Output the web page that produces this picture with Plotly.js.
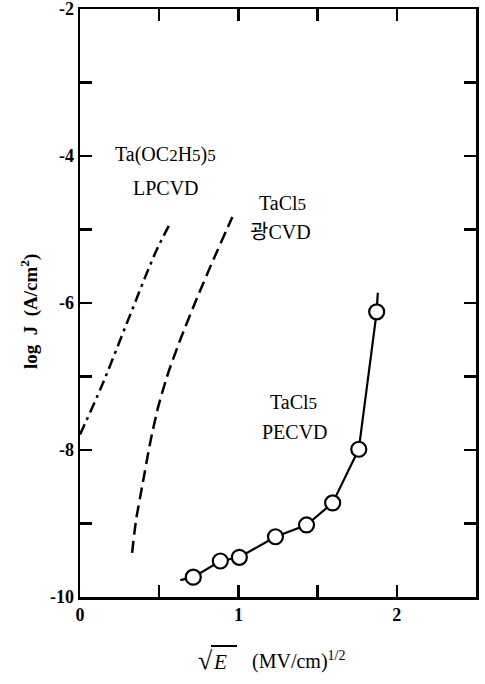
<!DOCTYPE html>
<html>
<head>
<meta charset="utf-8">
<script src="https://cdn.plot.ly/plotly-3.0.1.min.js"></script>
<style>html,body{margin:0;padding:0;background:#fff;}#chart{width:485px;height:684px;}</style>
</head>
<body>
<div id="chart"></div>
<script>
// LPCVD Ta(OC2H5)5 (dash-dot)
const lpX = [0.0, 0.139, 0.304, 0.475, 0.563];
const lpY = [-7.79, -7.12, -6.23, -5.32, -4.94];
// TaCl5 photo-CVD (dashed)
const phX = [0.329, 0.354, 0.392, 0.443, 0.494, 0.557, 0.633, 0.741, 0.842, 0.962];
const phY = [-9.40, -8.95, -8.50, -7.90, -7.41, -6.95, -6.50, -5.92, -5.41, -4.83];
// TaCl5 PECVD (solid line with open circles)
const peLineX = [0.633, 0.715, 0.886, 1.006, 1.234, 1.43, 1.595, 1.76, 1.873, 1.88];
const peLineY = [-9.77, -9.73, -9.51, -9.46, -9.18, -9.02, -8.72, -7.99, -6.12, -5.86];
const peX = [0.715, 0.886, 1.006, 1.234, 1.43, 1.595, 1.76, 1.873];
const peY = [-9.73, -9.51, -9.46, -9.18, -9.02, -8.72, -7.99, -6.12];
// ticks
const xTickVals = [0, 1, 2];
const xTickText = ['0', '1', '2'];
const yTickVals = [-10, -8, -6, -4, -2];
const yTickText = ['-10', '-8', '-6', '-4', '-2'];

const serif = 'Liberation Serif, Times New Roman, Noto Sans CJK KR, serif';
const traces = [
  {x: lpX, y: lpY, mode: 'lines', line: {color: '#000', width: 2.5, dash: '11px,5px,3px,5px', shape: 'spline', smoothing: 0.8}, hoverinfo: 'skip'},
  {x: phX, y: phY, mode: 'lines', line: {color: '#000', width: 2.5, dash: '12px,6px', shape: 'spline', smoothing: 0.6}, hoverinfo: 'skip'},
  {x: peLineX, y: peLineY, mode: 'lines', line: {color: '#000', width: 2.2}, hoverinfo: 'skip'},
  {x: peX, y: peY, mode: 'markers', marker: {symbol: 'circle', size: 15, color: '#fff', line: {color: '#000', width: 2.2}}, hoverinfo: 'skip'}
];
const axisCommon = {
  showgrid: false, zeroline: false, showline: true, linecolor: '#000', linewidth: 2.5,
  mirror: 'ticks', ticks: 'inside', ticklen: 12, tickwidth: 2.5, tickcolor: '#000',
  ticklabeloverflow: 'allow',
  tickfont: {family: serif, size: 18, color: '#000', weight: 'bold'}
};
const ann = (x, y, text) => ({xref: 'paper', yref: 'paper', x: x, y: y, text: text, showarrow: false,
  font: {family: serif, size: 20, color: '#000'}, xanchor: 'center', yanchor: 'middle'});
const L = 80, R = 476, T = 9, B = 597;
const px = (X) => (X - L) / (R - L);
const py = (Y) => (B - Y) / (B - T);
const sub = (d) => '<span style="font-size:17px">' + d + '</span>';
const layout = {
  width: 485, height: 684,
  margin: {l: L, r: 485 - R, t: T, b: 684 - B},
  paper_bgcolor: '#fff', plot_bgcolor: '#fff', showlegend: false,
  xaxis: Object.assign({}, axisCommon, {range: [0, 2.5], tickvals: xTickVals, ticktext: xTickText,
    minor: {tickvals: [0.5, 1.5], ticks: 'inside', ticklen: 12, tickwidth: 2.5, tickcolor: '#000'}}),
  yaxis: Object.assign({}, axisCommon, {range: [-10, -2], tickvals: yTickVals, ticktext: yTickText,
    minor: {tickvals: [-9, -7, -5, -3], ticks: 'inside', ticklen: 12, tickwidth: 2.5, tickcolor: '#000'}}),
  annotations: [
    ann(px(165), py(154), 'Ta(OC' + sub('2') + 'H' + sub('5') + ')' + sub('5')),
    ann(px(166), py(188), 'LPCVD'),
    ann(px(282), py(203), 'TaCl' + sub('5')),
    ann(px(280), py(232), '광CVD'),
    ann(px(293), py(402), 'TaCl' + sub('5')),
    ann(px(295), py(432), 'PECVD'),
    {xref: 'paper', yref: 'paper', x: px(29), y: py(312), text: 'log  J  (A/cm<sup>2</sup>)', textangle: -90,
     showarrow: false, font: {family: serif, size: 19, color: '#000', weight: 'bold'}, xanchor: 'center', yanchor: 'middle'},
    {xref: 'paper', yref: 'paper', x: px(196), y: py(661), text: '√', showarrow: false,
     font: {family: serif, size: 26, color: '#000', weight: 'bold'}, xanchor: 'left', yanchor: 'middle'},
    {xref: 'paper', yref: 'paper', x: px(211), y: py(662), text: '<i>E</i>', showarrow: false,
     font: {family: serif, size: 21, color: '#000'}, xanchor: 'left', yanchor: 'middle'},
    {xref: 'paper', yref: 'paper', x: px(250), y: py(660), text: '(MV/cm)<sup>1/2</sup>', showarrow: false,
     font: {family: serif, size: 20, color: '#000'}, xanchor: 'left', yanchor: 'middle'}
  ],
  shapes: [
    {type: 'line', xref: 'paper', yref: 'paper', x0: px(211), x1: px(237), y0: py(646), y1: py(646), line: {color: '#000', width: 2}}
  ]
};
Plotly.newPlot('chart', traces, layout, {staticPlot: true});
</script>
</body>
</html>
